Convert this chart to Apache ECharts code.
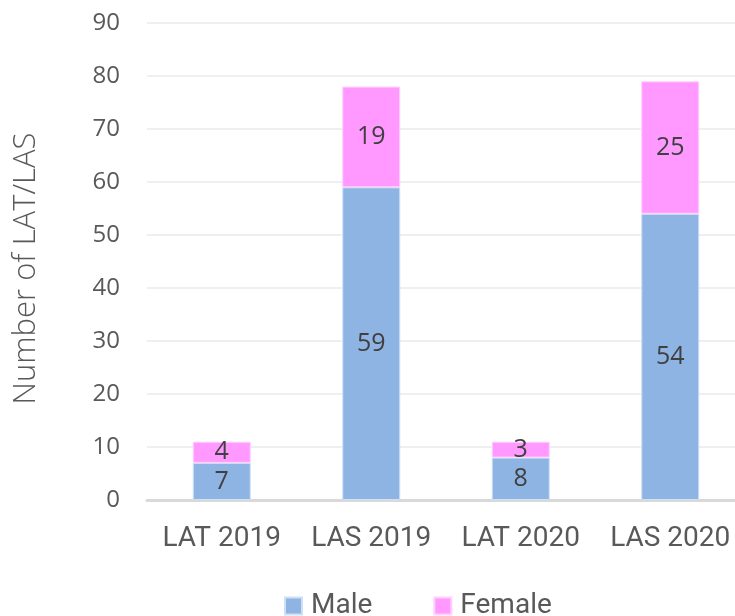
<!DOCTYPE html>
<html>
<head>
<meta charset="utf-8">
<script src="https://cdn.jsdelivr.net/npm/echarts@6/dist/echarts.min.js"></script>
<style>
html,body{margin:0;padding:0;background:#fff;overflow:hidden;}
#chart{width:745px;height:616px;}
</style>
</head>
<body>
<div id="chart"></div>
<script>
// data
var categories = ["LAT 2019", "LAS 2019", "LAT 2020", "LAS 2020"];
var maleData = [7, 59, 8, 54];
var femaleData = [4, 19, 3, 25];
var yTicks = [0, 90, 10]; // min, max, interval

// plot runs a bit past the right edge of the window, like the original
var chart = echarts.init(document.getElementById("chart"));

var labelStyle = {
    show: true,
    position: "inside",
    color: "#404040",
    fontFamily: "Open Sans",
    fontSize: 25
};

chart.setOption({
    animation: false,
    grid: {left: 147, top: 23, right: 0, height: 477},
    legend: {
        data: ["Male", "Female"],
        left: 279,
        top: 584,
        itemWidth: 17,
        itemHeight: 17,
        itemGap: 61,
        icon: "rect",
        textStyle: {
            color: "#595959",
            fontFamily: "Roboto",
            fontSize: 28,
            lineHeight: 34,
            padding: [0, 0, 0, 4]
        }
    },
    xAxis: {
        type: "category",
        data: categories,
        axisTick: {show: false},
        axisLine: {lineStyle: {color: "#d9d9d9", width: 3}},
        axisLabel: {
            interval: 0,
            hideOverlap: false,
            color: "#595959",
            fontFamily: "Roboto",
            fontSize: 28,
            margin: 25
        }
    },
    yAxis: {
        type: "value",
        min: yTicks[0],
        max: yTicks[1],
        interval: yTicks[2],
        name: "Number of LAT/LAS",
        nameLocation: "middle",
        nameGap: 105,
        nameTextStyle: {
            color: "#595959",
            fontFamily: "Open Sans",
            fontWeight: 300,
            fontSize: 31,
            padding: [0, 14, 0, 0]
        },
        axisLine: {show: false},
        axisTick: {show: false},
        splitLine: {lineStyle: {color: "#efefef", width: 2}},
        axisLabel: {
            color: "#595959",
            fontFamily: "Open Sans",
            fontSize: 24,
            margin: 27
        }
    },
    series: [
        {
            name: "Male",
            type: "bar",
            stack: "total",
            barWidth: 58,
            data: maleData,
            itemStyle: {color: "#8eb4e3", borderColor: "#cfe0f5", borderWidth: 1},
            label: labelStyle
        },
        {
            name: "Female",
            type: "bar",
            stack: "total",
            barWidth: 58,
            data: femaleData,
            itemStyle: {color: "#ff99ff", borderColor: "#ffd0ff", borderWidth: 1},
            label: labelStyle
        }
    ]
});
</script>
</body>
</html>
